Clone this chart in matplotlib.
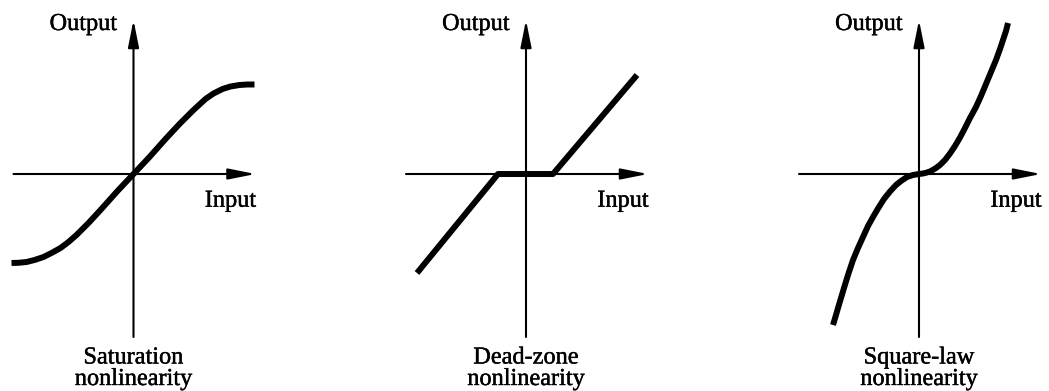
import matplotlib
matplotlib.use("Agg")
import matplotlib.pyplot as plt
import matplotlib.patheffects as pe

# ---- data (pixel-like units, origin at axis crossing, y up) ----
sat_x = [-122, -115, -107, -99, -90, -82, -73, -65, -57, -45, -33, -16, 0,
         16, 32, 46, 59, 66, 72, 80, 89, 97, 106, 114, 121]
sat_y = [-89, -88.8, -88, -86, -83, -79, -74, -68, -61, -49, -36, -17, 0,
         17, 35, 50, 63, 69.5, 75, 80.5, 85, 87.5, 89, 89.5, 89.5]

dz_x = [-109, -28, 27, 111]
dz_y = [-99, 0, 0, 99]

sq_x = [-86, -83, -81, -78, -75, -71, -66, -61, -56, -51, -46, -41, -35,
        -29, -23, -18, -12, -6, 0,
        4, 8, 12, 17, 21, 26, 31, 36, 41, 46, 51, 57, 62, 67, 72, 77, 81,
        84, 87, 89]
sq_y = [-151, -141, -134, -124, -114, -101, -86, -74, -63, -52, -43, -34.5,
        -25, -17.5, -11, -7, -3, -1, 0,
        0.5, 1.5, 3, 6, 9, 14, 20.5, 28, 36.5, 46, 56, 67, 78, 90, 102, 114,
        125, 134, 143, 151]

captions = [("Saturation", "nonlinearity"),
            ("Dead-zone", "nonlinearity"),
            ("Square-law", "nonlinearity")]
out_label = "Output"
in_label = "Input"

curves = [(sat_x, sat_y), (dz_x, dz_y), (sq_x, sq_y)]

# ---- layout ----
W, H = 1049, 391
origins_x = [133.5, 526, 919]
origin_y = 174
half_w = 128

fig = plt.figure(figsize=(W / 100, H / 100), dpi=100)
font = dict(family=["Liberation Serif", "DejaVu Serif"], fontsize=17.5, color="black",
            path_effects=[pe.withStroke(linewidth=0.3, foreground="black")])

for ox, (cx, cy), (cap1, cap2) in zip(origins_x, curves, captions):
    ax = fig.add_axes([(ox - half_w) / W, 0, 2 * half_w / W, 1])
    ax.set_xlim(-half_w, half_w)
    ax.set_ylim(-(H - origin_y), origin_y)
    ax.axis("off")

    arrow = dict(arrowstyle="-|>,head_length=1.1,head_width=0.22",
                 mutation_scale=15, lw=1.5, color="black",
                 shrinkA=0, shrinkB=0)
    ax.annotate("", xy=(122, 0), xytext=(-120, 0), arrowprops=arrow)
    ax.annotate("", xy=(0, 154), xytext=(0, -163), arrowprops=arrow)

    ax.plot(cx, cy, color="black", lw=4.3, solid_capstyle="butt",
            solid_joinstyle="round", zorder=5)

    ax.text(-50, 144, out_label, ha="center", va="baseline", **font)
    ax.text(97, -32.7, in_label, ha="center", va="baseline", **font)
    ax.text(0, -189.5, cap1, ha="center", va="baseline", **font)
    ax.text(0, -211, cap2, ha="center", va="baseline", **font)

fig.savefig("out.png", dpi=100, facecolor="white")
